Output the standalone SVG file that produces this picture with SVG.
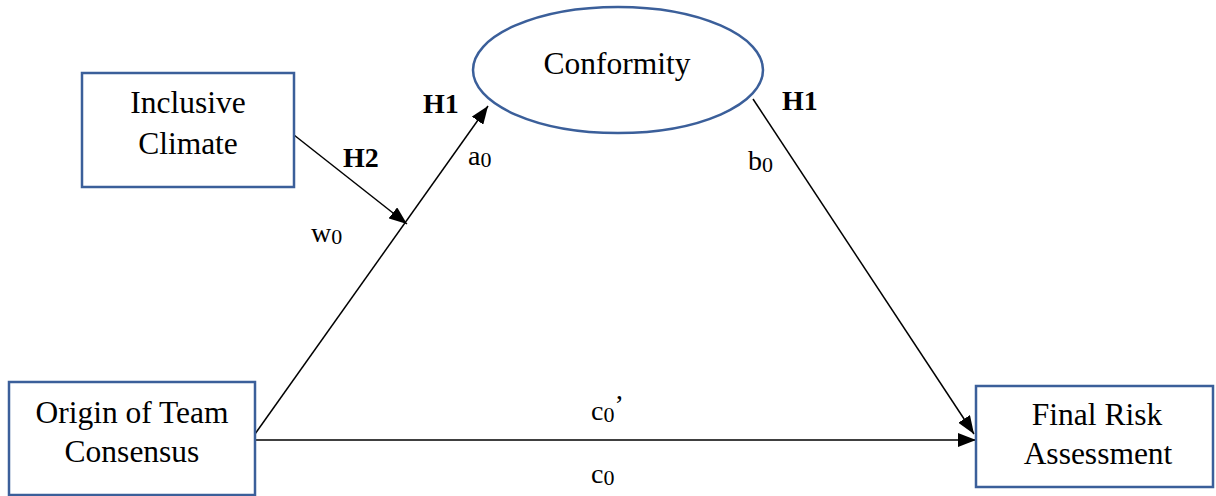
<svg xmlns="http://www.w3.org/2000/svg" width="1216" height="496" viewBox="0 0 1216 496">
<style>
.box{fill:#fff;stroke:#3b5f9a;stroke-width:2.5}
.t{font-family:"Liberation Serif","Times New Roman",serif;font-size:31.5px;fill:#000;text-anchor:middle}
.l{font-family:"Liberation Serif","Times New Roman",serif;font-size:28px;fill:#000}
.b{font-family:"Liberation Serif","Times New Roman",serif;font-size:28px;font-weight:bold;fill:#000}
.s{font-size:22px}
.c{stroke:#000;stroke-width:1.5;fill:none}
</style>
<defs>
<marker id="ah" viewBox="0 0 18 14" refX="18" refY="7" markerWidth="18" markerHeight="14" markerUnits="userSpaceOnUse" orient="auto">
<path d="M0,0 L18,7 L0,14 Z" fill="#000"/>
</marker>
</defs>
<rect width="1216" height="496" fill="#fff"/>
<g id="connectors">
<line class="c" x1="255" y1="434" x2="488" y2="106" marker-end="url(#ah)"/>
<line class="c" x1="294" y1="135" x2="407" y2="224" marker-end="url(#ah)"/>
<line class="c" x1="753" y1="99" x2="974" y2="434" marker-end="url(#ah)"/>
<line class="c" x1="255" y1="440" x2="976" y2="440" stroke-width="2" marker-end="url(#ah)"/>
</g>
<g id="inclusive-climate">
<rect class="box" x="82" y="73" width="212" height="114"/>
<text class="t" x="188" y="113">Inclusive</text>
<text class="t" x="188" y="154">Climate</text>
</g>
<g id="conformity">
<ellipse class="box" cx="618" cy="70" rx="145" ry="63"/>
<text class="t" x="617" y="74">Conformity</text>
</g>
<g id="origin">
<rect class="box" x="9" y="382" width="246" height="113"/>
<text class="t" x="132" y="423">Origin of Team</text>
<text class="t" x="132" y="462">Consensus</text>
</g>
<g id="final-risk">
<rect class="box" x="976" y="386" width="237" height="101"/>
<text class="t" x="1097" y="425">Final Risk</text>
<text class="t" x="1098" y="464">Assessment</text>
</g>
<g id="labels">
<text class="b" x="423" y="113">H1</text>
<text class="b" x="343" y="167">H2</text>
<text class="b" x="782" y="110">H1</text>
<text class="l" x="468" y="165">a<tspan class="s" dy="2">0</tspan></text>
<text class="l" x="311" y="242">w<tspan class="s" dy="2">0</tspan></text>
<text class="l" x="748" y="170">b<tspan class="s" dy="2">0</tspan></text>
<text class="l" x="591" y="420">c<tspan class="s" dy="2">0</tspan><tspan dy="-8">’</tspan></text>
<text class="l" x="591" y="483">c<tspan class="s" dy="2">0</tspan></text>
</g>
</svg>
